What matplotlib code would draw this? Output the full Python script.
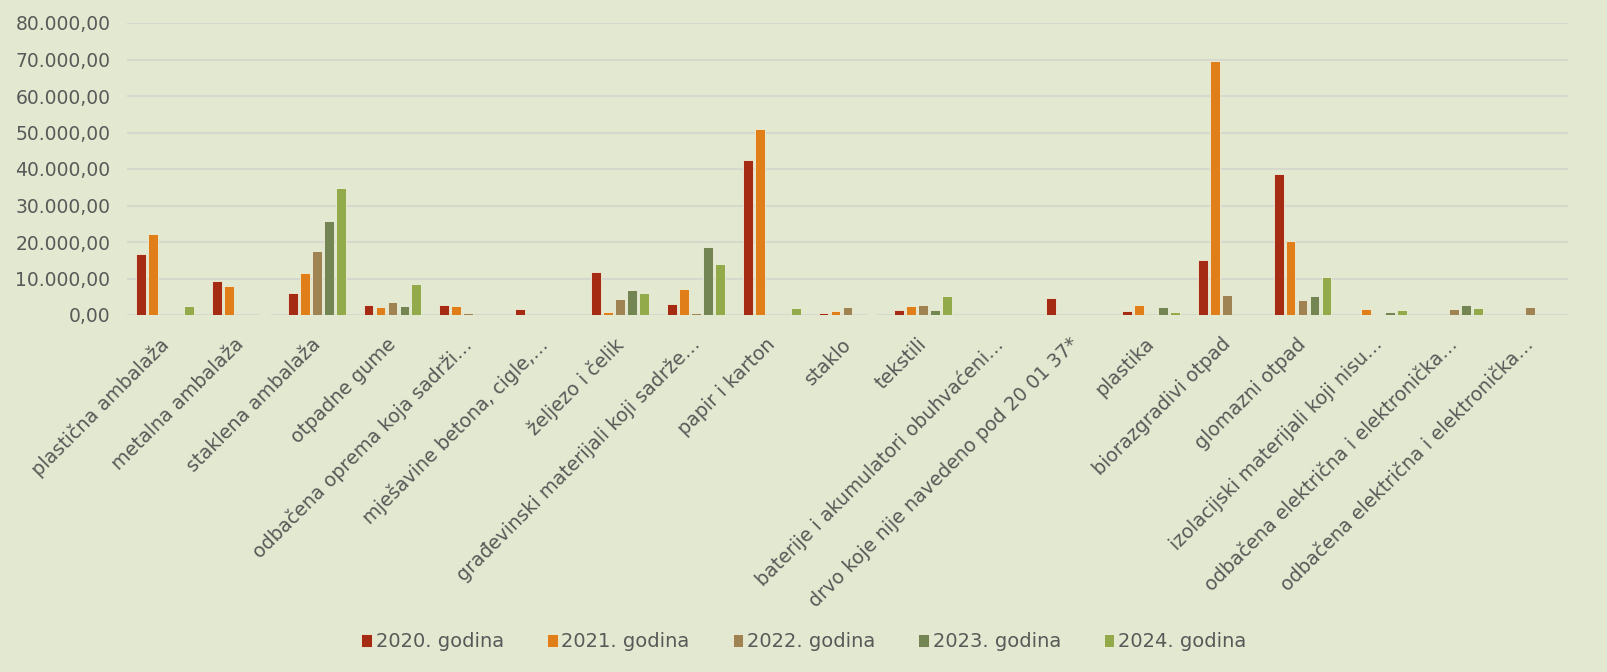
import matplotlib.pyplot as plt
import numpy as np
from matplotlib.ticker import FuncFormatter

categories = ['plastična ambalaža', 'metalna ambalaža', 'staklena ambalaža', 'otpadne gume',
              'odbačena oprema koja sadrži…', 'mješavine betona, cigle,…', 'željezo i čelik',
              'građevinski materijali koji sadrže…', 'papir i karton', 'staklo', 'tekstili',
              'baterije i akumulatori obuhvaćeni…', 'drvo koje nije navedeno pod 20 01 37*',
              'plastika', 'biorazgradivi otpad', 'glomazni otpad',
              'izolacijski materijali koji nisu…', 'odbačena električna i elektronička…',
              'odbačena električna i elektronička…']

series_names = ['2020. godina', '2021. godina', '2022. godina', '2023. godina', '2024. godina']

v2020 = [16800, 9300, 6000, 2750, 2750, 1550, 11700, 3000, 42600, 550, 1450, 0, 4600, 1100, 15100, 38700, 0, 0, 0]
v2021 = [22200, 7900, 11450, 2100, 2450, 0, 900, 7050, 50900, 1100, 2550, 0, 0, 2750, 69650, 20300, 1550, 0, 0]
v2022 = [0, 0, 17600, 3450, 450, 0, 4300, 550, 100, 2200, 2750, 0, 0, 0, 5500, 4200, 250, 1650, 2200]
v2023 = [0, 0, 25750, 2450, 0, 0, 6850, 18500, 0, 0, 1450, 0, 0, 2200, 0, 5300, 800, 2650, 0]
v2024 = [2550, 200, 34900, 8600, 0, 0, 5950, 14000, 2000, 250, 5100, 0, 0, 800, 0, 10350, 1350, 1900, 0]

colors = ['#A52B12', '#E07E1A', '#A08353', '#728553', '#93AA4B']
bg = '#E3E9D0'
txt = '#595959'

plt.rcParams['font.family'] = ['DejaVu Sans']

fig = plt.figure(figsize=(16.08, 6.72), dpi=100, facecolor=bg)
ax = fig.add_axes([127/1608, 1 - 315/672, (1568 - 127)/1608, (315 - 23)/672])
ax.set_facecolor(bg)

x = np.arange(len(categories))
step = 0.158
width = 0.13
for i, (vals, name) in enumerate(zip([v2020, v2021, v2022, v2023, v2024], series_names)):
    ax.bar(x + (i - 2) * step, vals, width, color=colors[i], label=name,
           edgecolor='#EEF0DC', linewidth=0.6, zorder=3)

ax.set_xlim(-0.5, len(categories) - 0.5)
ax.set_ylim(0, 80000)
ax.set_yticks(np.arange(0, 80001, 10000))
ax.yaxis.set_major_formatter(FuncFormatter(lambda v, p: f'{v:,.2f}'.replace(',', ' ').replace('.', ',').replace(' ', '.')))
ax.grid(axis='y', color='#D6D8CE', linewidth=1.5, zorder=0)
for s in ax.spines.values():
    s.set_visible(False)
ax.tick_params(length=0, colors=txt, labelsize=13.5)
ax.tick_params(axis='y', pad=12)
ax.tick_params(axis='x', pad=14)

ax.set_xticks(x - 0.08)
ax.set_xticklabels(categories, rotation=45, ha='right', rotation_mode='anchor', color=txt, fontsize=13.8)

leg = fig.legend(loc='center', bbox_to_anchor=(0.5, 0.045), ncol=5, frameon=False,
                 fontsize=14, handlelength=0.55, handleheight=0.7, handletextpad=0.2, columnspacing=2.2)
for t in leg.get_texts():
    t.set_color(txt)

plt.savefig('out.png', dpi=100, facecolor=bg)
